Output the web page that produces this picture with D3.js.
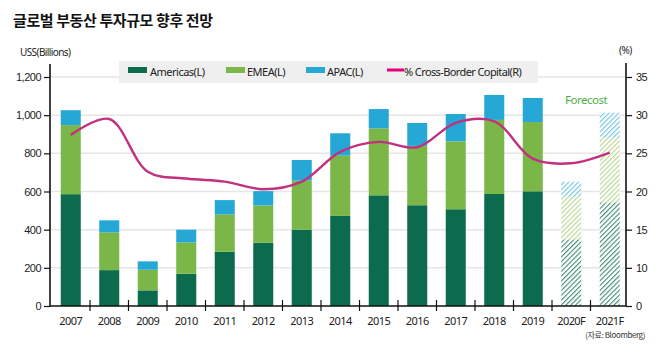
<!DOCTYPE html>
<html>
<head>
<meta charset="utf-8">
<script src="https://cdn.jsdelivr.net/npm/d3@7"></script>
<style>
  body { margin: 0; background: #fff; }
  svg { display: block; font-family: "Noto Sans", "Liberation Sans", sans-serif; }
  .tick text { font-size: 11px; fill: #222; letter-spacing: -0.5px; }
</style>
</head>
<body>
<div id="chart"></div>
<script>
  const years = ["2007", "2008", "2009", "2010", "2011", "2012", "2013", "2014",
                 "2015", "2016", "2017", "2018", "2019", "2020F", "2021F"];
  const forecastYears = ["2020F", "2021F"];
  const americas = [586, 188, 82, 169, 284, 331, 400, 472, 580, 528, 507, 587, 601, 349, 543];
  const emea     = [362, 198, 108, 164, 196, 196, 257, 316, 351, 311, 356, 388, 363, 224, 339];
  const apac     = [78, 63, 44, 67, 75, 75, 108, 117, 101, 120, 143, 131, 126, 78, 131];
  const crossBorder = [27.4, 29.5, 22.6, 21.7, 21.3, 20.3, 21.3, 25.2, 26.5, 25.8, 29.0, 29.2, 24.3, 23.7, 25.1];
  const leftTicks = [0, 200, 400, 600, 800, 1000, 1200];
  const rightTicks = [0, 10, 15, 20, 25, 30, 35];

  const series = [
    { key: "americas", label: "Americas(L)", values: americas, color: "#0b6b4c", hatch: "#3f8c70" },
    { key: "emea", label: "EMEA(L)", values: emea, color: "#7ab648", hatch: "#b5d68c" },
    { key: "apac", label: "APAC(L)", values: apac, color: "#25a8d6", hatch: "#6fc4e4" }
  ];

  const W = 660, H = 361;
  const plotLeft = 50, plotRight = 626, plotTop = 77, plotBottom = 306;

  const svg = d3.select("#chart").append("svg")
    .attr("width", W)
    .attr("height", H);

  // hatch patterns for the forecast bars
  const defs = svg.append("defs");
  series.forEach(s => {
    let p = defs.append("pattern")
      .attr("id", "hatch-" + s.key)
      .attr("width", 3.4)
      .attr("height", 3.4)
      .attr("patternUnits", "userSpaceOnUse")
      .attr("patternTransform", "rotate(45)");
    p.append("rect").attr("width", 3.4).attr("height", 3.4).attr("fill", "#fff");
    p.append("line")
      .attr("x1", 0).attr("y1", 0).attr("x2", 0).attr("y2", 3.4)
      .attr("stroke", s.hatch)
      .attr("stroke-width", 2.2);
  });

  const x = d3.scaleBand().domain(years).range([51.5, 629]).paddingInner(0.48).paddingOuter(0.24);
  const xTicks = d3.scaleBand().domain(years).range([51.5, 629]);
  const y = d3.scaleLinear().domain([0, 1200]).range([plotBottom, plotTop]);
  // right axis is uneven in the source: 0 sits at the bottom, 10 on the 200 gridline
  const yR = d3.scaleLinear().domain([0, 10, 35]).range([y(0), y(200), y(1200)]);

  // title
  svg.append("text")
    .attr("x", 13).attr("y", 26)
    .attr("font-family", "'Noto Sans CJK KR', sans-serif")
    .attr("font-weight", "bold")
    .attr("font-size", 15)
    .attr("letter-spacing", -0.4)
    .attr("fill", "#111")
    .text("글로벌 부동산 투자규모 향후 전망");

  svg.append("text")
    .attr("x", 20).attr("y", 56)
    .attr("font-size", 10).attr("letter-spacing", -0.6).attr("fill", "#222")
    .text("USS(Billions)");

  svg.append("text")
    .attr("x", 619).attr("y", 54)
    .attr("font-size", 10).attr("letter-spacing", -0.5).attr("fill", "#222")
    .text("(%)");

  // gridlines
  svg.append("g")
    .selectAll("line")
    .data(leftTicks.slice(1))
    .join("line")
    .attr("x1", plotLeft).attr("x2", plotRight)
    .attr("y1", d => y(d)).attr("y2", d => y(d))
    .attr("stroke", "#e6e6e6")
    .attr("stroke-width", 1.5);

  // stacked bars
  const rows = years.map((yr, i) => ({ year: yr, americas: americas[i], emea: emea[i], apac: apac[i] }));
  const stack = d3.stack().keys(series.map(s => s.key))(rows);

  stack.forEach((layer, li) => {
    let s = series[li];
    svg.append("g")
      .selectAll("rect")
      .data(layer)
      .join("rect")
      .attr("x", d => x(d.data.year))
      .attr("width", x.bandwidth())
      .attr("y", d => y(d[1]))
      .attr("height", d => y(d[0]) - y(d[1]))
      .attr("fill", d => forecastYears.includes(d.data.year) ? "url(#hatch-" + s.key + ")" : s.color);
  });

  // cross-border line
  const line = d3.line()
    .x((d, i) => x(years[i]) + x.bandwidth() / 2)
    .y(d => yR(d))
    .curve(d3.curveCatmullRom.alpha(0.5));

  svg.append("path")
    .attr("d", line(crossBorder))
    .attr("fill", "none")
    .attr("stroke", "#c2307f")
    .attr("stroke-width", 2.4);

  // left axis
  const gL = svg.append("g")
    .attr("transform", `translate(${plotLeft},0)`)
    .call(d3.axisLeft(y).tickValues(leftTicks).tickFormat(d3.format(",")).tickSize(6).tickPadding(3));
  gL.select(".domain").remove();
  gL.selectAll(".tick line").attr("stroke", "#111").attr("stroke-width", 1.2);
  svg.append("line")
    .attr("x1", plotLeft).attr("x2", plotLeft).attr("y1", 64).attr("y2", plotBottom)
    .attr("stroke", "#111").attr("stroke-width", 1.6);

  // right axis
  const gR = svg.append("g")
    .attr("transform", `translate(${plotRight},0)`)
    .call(d3.axisRight(yR).tickValues(rightTicks).tickSize(6).tickPadding(4));
  gR.select(".domain").remove();
  gR.selectAll(".tick line").attr("stroke", "#111").attr("stroke-width", 1.2);
  svg.append("line")
    .attr("x1", plotRight).attr("x2", plotRight).attr("y1", 63).attr("y2", plotBottom)
    .attr("stroke", "#111").attr("stroke-width", 1.6);

  // x axis
  svg.append("line")
    .attr("x1", plotLeft).attr("x2", plotRight).attr("y1", plotBottom).attr("y2", plotBottom)
    .attr("stroke", "#111").attr("stroke-width", 1.6);
  svg.append("g")
    .selectAll("line")
    .data(years.slice(1))
    .join("line")
    .attr("x1", d => xTicks(d)).attr("x2", d => xTicks(d))
    .attr("y1", plotBottom - 6).attr("y2", plotBottom + 5)
    .attr("stroke", "#111").attr("stroke-width", 1.2);
  svg.append("g")
    .selectAll("text")
    .data(years)
    .join("text")
    .attr("x", d => x(d) + x.bandwidth() / 2)
    .attr("y", plotBottom + 19)
    .attr("text-anchor", "middle")
    .attr("font-size", 11)
    .attr("letter-spacing", -0.6)
    .attr("fill", "#222")
    .text(d => d);

  // forecast label
  svg.append("text")
    .attr("x", 565).attr("y", 104)
    .attr("font-size", 11.5).attr("letter-spacing", -0.5)
    .attr("fill", "#4fae46")
    .text("Forecost");

  // legend
  const legend = svg.append("g");
  legend.append("rect")
    .attr("x", 119).attr("y", 61).attr("width", 419).attr("height", 22)
    .attr("fill", "#efefef");
  const items = [
    { label: "Americas(L)", color: series[0].color, x: 128, text: 150 },
    { label: "EMEA(L)", color: series[1].color, x: 226, text: 247 },
    { label: "APAC(L)", color: series[2].color, x: 306, text: 327 }
  ];
  items.forEach(it => {
    legend.append("rect")
      .attr("x", it.x).attr("y", 67).attr("width", 19).attr("height", 6)
      .attr("fill", it.color);
    legend.append("text")
      .attr("x", it.text).attr("y", 76)
      .attr("font-size", 11).attr("letter-spacing", -0.5).attr("fill", "#222")
      .text(it.label);
  });
  legend.append("rect")
    .attr("x", 387).attr("y", 68.5).attr("width", 17).attr("height", 3)
    .attr("fill", "#e4007f");
  legend.append("text")
    .attr("x", 404).attr("y", 76)
    .attr("font-size", 11).attr("letter-spacing", -0.6).attr("fill", "#222")
    .text("% Cross-Border Copital(R)");

  // source
  svg.append("text")
    .attr("x", 645).attr("y", 338)
    .attr("text-anchor", "end")
    .attr("font-family", "'Noto Sans CJK KR', sans-serif")
    .attr("font-size", 8).attr("letter-spacing", -0.4).attr("fill", "#333")
    .text("(자료: Bloomberg)");
</script>
</body>
</html>
